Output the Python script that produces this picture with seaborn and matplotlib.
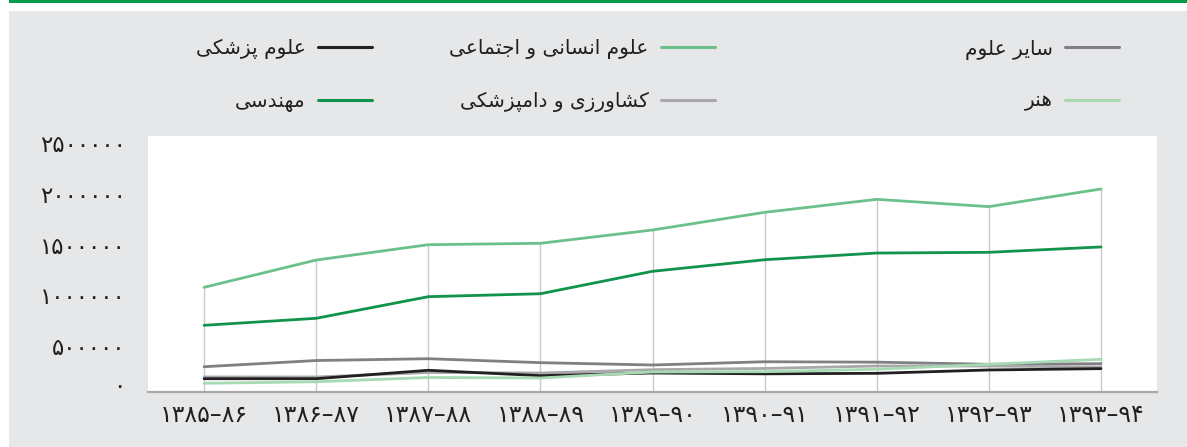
import numpy as np
import pandas as pd
import matplotlib
matplotlib.use("Agg")
import matplotlib.pyplot as plt
import matplotlib.transforms as mtransforms
import seaborn as sns
from matplotlib.patches import Rectangle
from matplotlib.lines import Line2D

# ---------------- data ----------------
years = ['۱۳۸۵–۸۶', '۱۳۸۶–۸۷', '۱۳۸۷–۸۸', '۱۳۸۸–۸۹', '۱۳۸۹–۹۰',
         '۱۳۹۰–۹۱', '۱۳۹۱–۹۲', '۱۳۹۲–۹۳', '۱۳۹۳–۹۴']
humanities = [1031000, 1300000, 1451000, 1465000, 1596000, 1770000, 1898000, 1826000, 2000000]
engineering = [657000, 726000, 939000, 968000, 1189000, 1303000, 1369000, 1376000, 1429000]
other_sciences = [249000, 310000, 328000, 289000, 266000, 298000, 294000, 273000, 279000]
agriculture = [148000, 148000, 192000, 187000, 220000, 232000, 256000, 256000, 246000]
medical = [131000, 131000, 214000, 161000, 187000, 179000, 184000, 217000, 230000]
art = [86000, 101000, 143000, 138000, 197000, 200000, 224000, 273000, 322000]

name_other = 'سایر علوم'
name_art = 'هنر'
name_hum = 'علوم انسانی و اجتماعی'
name_agri = 'کشاورزی و دامپزشکی'
name_med = 'علوم پزشکی'
name_eng = 'مهندسی'

y_ticks = [0, 500000, 1000000, 1500000, 2000000, 2500000]
y_labels = ['۰', '۵۰۰۰۰۰', '۱۰۰۰۰۰۰', '۱۵۰۰۰۰۰', '۲۰۰۰۰۰۰', '۲۵۰۰۰۰۰']

colors = {
    name_other: '#808083',
    name_art: '#a6d9b4',
    name_hum: '#6cc08c',
    name_agri: '#a8a8aa',
    name_med: '#231f20',
    name_eng: '#10934a',
}

# ---------------- minimal Persian shaping (matplotlib has no bidi/shaping) ----------------
FORMS = {  # isolated, final, initial, medial
    'ا': ('\uFE8D', '\uFE8E', None, None),
    'ب': ('\uFE8F', '\uFE90', '\uFE91', '\uFE92'),
    'پ': ('\uFB56', '\uFB57', '\uFB58', '\uFB59'),
    'ت': ('\uFE95', '\uFE96', '\uFE97', '\uFE98'),
    'ج': ('\uFE9D', '\uFE9E', '\uFE9F', '\uFEA0'),
    'د': ('\uFEA9', '\uFEAA', None, None),
    'ر': ('\uFEAD', '\uFEAE', None, None),
    'ز': ('\uFEAF', '\uFEB0', None, None),
    'س': ('\uFEB1', '\uFEB2', '\uFEB3', '\uFEB4'),
    'ش': ('\uFEB5', '\uFEB6', '\uFEB7', '\uFEB8'),
    'ع': ('\uFEC9', '\uFECA', '\uFECB', '\uFECC'),
    'ل': ('\uFEDD', '\uFEDE', '\uFEDF', '\uFEE0'),
    'م': ('\uFEE1', '\uFEE2', '\uFEE3', '\uFEE4'),
    'ن': ('\uFEE5', '\uFEE6', '\uFEE7', '\uFEE8'),
    'ه': ('\uFEE9', '\uFEEA', '\uFEEB', '\uFEEC'),
    'و': ('\uFEED', '\uFEEE', None, None),
    'ک': ('\uFB8E', '\uFB8F', '\uFB90', '\uFB91'),
    'ی': ('\uFBFC', '\uFBFD', '\uFBFE', '\uFBFF'),
}


def shape(text):
    out = []
    n = len(text)
    for i, ch in enumerate(text):
        if ch not in FORMS:
            out.append(ch)
            continue
        iso, fin, ini, med = FORMS[ch]
        prev = text[i - 1] if i > 0 else None
        nxt = text[i + 1] if i < n - 1 else None
        join_prev = prev in FORMS and FORMS[prev][2] is not None
        join_next = ini is not None and nxt in FORMS
        if join_prev and join_next:
            out.append(med)
        elif join_prev:
            out.append(fin)
        elif join_next:
            out.append(ini)
        else:
            out.append(iso)
    return ''.join(out)[::-1]


# ---------------- figure ----------------
sns.set_theme(style="white")
plt.rcParams['font.family'] = ['DejaVu Sans']

W, H = 1187, 447
fig = plt.figure(figsize=(W / 100, H / 100), dpi=100, facecolor='white')
fig.patches.append(Rectangle((9 / W, 0), 1 - 9 / W, (H - 11) / H,
                             transform=fig.transFigure, facecolor='#e6e7e8',
                             edgecolor='none', zorder=-10))
fig.patches.append(Rectangle((9 / W, 1 - 3 / H), 1 - 9 / W, 3 / H,
                             transform=fig.transFigure, facecolor='#079a4b',
                             edgecolor='none', zorder=-10))

ax = fig.add_axes([148 / W, (H - 392) / H, (1157 - 148) / W, (392 - 136) / H])
ax.set_zorder(1)
ax.set_facecolor('white')

series = [
    (name_other, other_sciences),
    (name_agri, agriculture),
    (name_med, medical),
    (name_art, art),
    (name_eng, engineering),
    (name_hum, humanities),
]
rows = []
for name, vals in series:
    for i, v in enumerate(vals):
        rows.append({'idx': i, 'value': v, 'field': name})
df = pd.DataFrame(rows)

# drop lines from the axis to the highest series at each period
tops = df.groupby('idx')['value'].max()
ax.vlines(tops.index, 0, tops.values, colors='#c9c9c9', linewidth=1.0, zorder=1)

sns.lineplot(data=df, x='idx', y='value', hue='field', palette=colors,
             hue_order=[s[0] for s in series], linewidth=2.0, sort=False,
             legend=False, ax=ax, zorder=3)

ax.set_xlim(-0.5, len(years) - 0.5)
ax.set_ylim(0, 2522000)
ax.set_xticks(range(len(years)))
ax.set_xticklabels(years, fontsize=17, color='#231f20')
ax.set_yticks(y_ticks)
ax.set_yticklabels(y_labels, fontsize=16.5, color='#231f20')
ax.tick_params(axis='both', length=0)
ax.tick_params(axis='y', pad=16)
ax.tick_params(axis='x', pad=8)
ax.set_xlabel('')
ax.set_ylabel('')
ax.grid(False)
for s in ['left', 'right', 'top']:
    ax.spines[s].set_visible(False)
ax.spines['bottom'].set_color('#a9a9a9')
ax.spines['bottom'].set_linewidth(1.6)

# nudge y labels to the reference's visual placement
for lab in ax.get_yticklabels():
    dy = 8 if lab.get_text() == '۰' else -5
    lab.set_transform(lab.get_transform() +
                      mtransforms.ScaledTranslation(0, dy / 100, fig.dpi_scale_trans))

# ---------------- legend: three right-to-left columns ----------------
columns = [
    ([name_other, name_art], 1119),
    ([name_hum, name_agri], 715),
    ([name_med, name_eng], 372),
]
for names, xr in columns:
    handles = [Line2D([], [], color=colors[nm], linewidth=2.2) for nm in names]
    leg = fig.legend(handles, [shape(nm) for nm in names],
                     loc='center right', bbox_to_anchor=(xr / W, 1 - 75.5 / H),
                     bbox_transform=fig.transFigure, frameon=False,
                     markerfirst=False, fontsize=14.5, handlelength=2.7,
                     handletextpad=0.6, labelspacing=1.6, borderpad=0,
                     borderaxespad=0)
    for t in leg.get_texts():
        t.set_color('#231f20')

fig.savefig('out.png', dpi=100, facecolor=fig.get_facecolor())
